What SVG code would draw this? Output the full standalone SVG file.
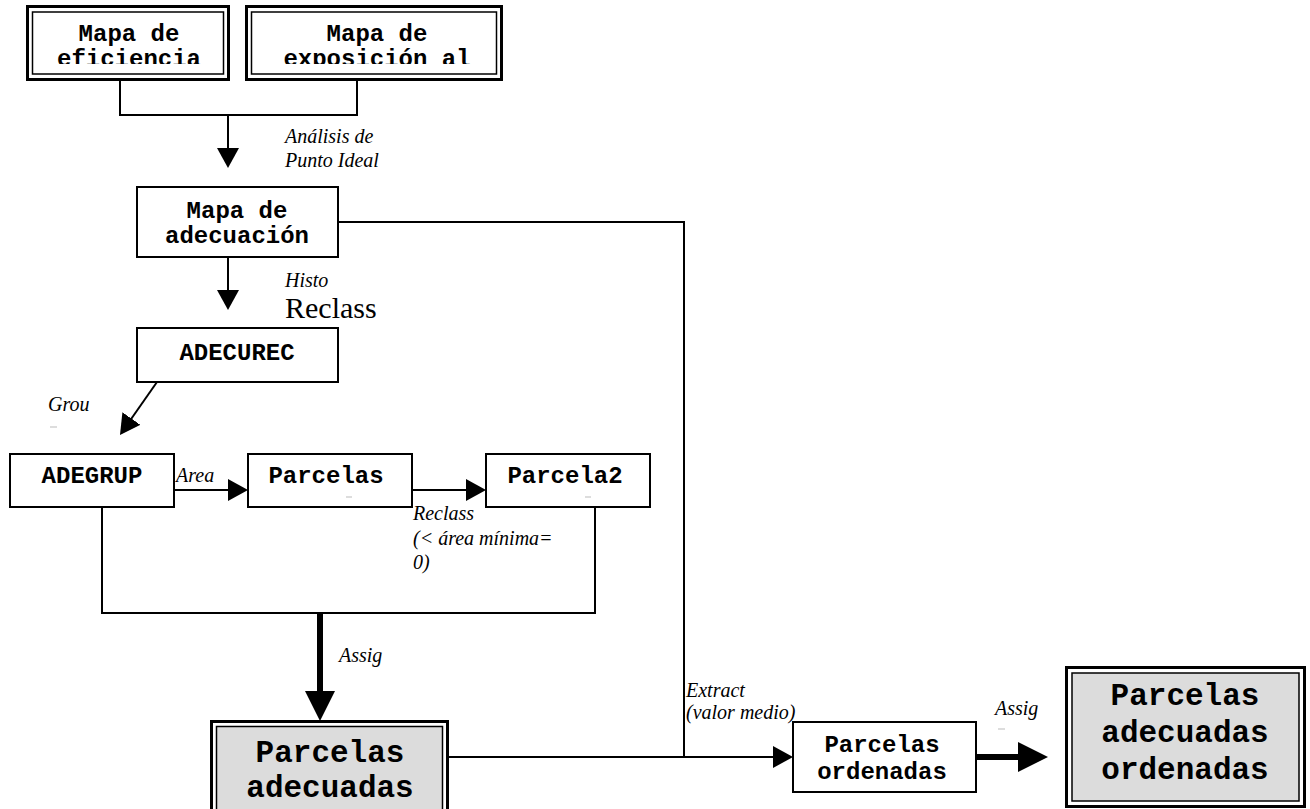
<svg xmlns="http://www.w3.org/2000/svg" width="1310" height="809" viewBox="0 0 1310 809">
<defs>
<marker id="ah" markerUnits="userSpaceOnUse" markerWidth="20" markerHeight="22" refX="10" refY="11" orient="auto"><path d="M0,0 L20,11 L0,22 z" fill="#000"/></marker>
<marker id="ahb" markerUnits="userSpaceOnUse" markerWidth="30" markerHeight="30" refX="15" refY="15" orient="auto"><path d="M0,0 L30,15 L0,30 z" fill="#000"/></marker>
<clipPath id="c1"><rect x="32" y="12" width="192" height="52"/></clipPath>
<clipPath id="c2"><rect x="251" y="12" width="246" height="52"/></clipPath>
</defs>
<style>
.box{fill:#fff;stroke:#000;stroke-width:2}
.outer{fill:#fff;stroke:#000;stroke-width:3}
.inner{fill:#fff;stroke:#000;stroke-width:1.5}
.grey{fill:#dcdcdc;stroke:#000;stroke-width:1.5}
.t{font-family:"Liberation Mono","Courier New",monospace;font-weight:bold;font-size:24px;text-anchor:middle;fill:#000}
.tb{font-family:"Liberation Mono","Courier New",monospace;font-weight:bold;font-size:31px;text-anchor:middle;fill:#000}
.lb{font-family:"Liberation Serif","Times New Roman",serif;font-style:italic;font-size:20px;fill:#000}
.ln{fill:none;stroke:#000;stroke-width:2}
.thick{fill:none;stroke:#000;stroke-width:6}
.dash{stroke:#bbb;stroke-width:1}
</style>
<g id="connectors">
<polyline class="ln" points="120,80 120,115 357,115 357,80"/>
<line class="ln" x1="228" y1="115" x2="228" y2="158" marker-end="url(#ah)"/>
<line class="ln" x1="228" y1="257" x2="228" y2="300" marker-end="url(#ah)"/>
<line class="ln" x1="157" y1="382" x2="125.7" y2="426.8" marker-end="url(#ah)"/>
<line class="ln" x1="174" y1="490" x2="238" y2="490" marker-end="url(#ah)"/>
<line class="ln" x1="412" y1="490" x2="476" y2="490" marker-end="url(#ah)"/>
<polyline class="ln" points="102,507 102,613 595,613 595,507"/>
<line class="thick" x1="320" y1="613" x2="320" y2="706" marker-end="url(#ahb)"/>
<polyline class="ln" points="338,222 684,222 684,757"/>
<line class="ln" x1="448" y1="757" x2="783" y2="757" marker-end="url(#ah)"/>
<line class="thick" x1="976" y1="757" x2="1033" y2="757" marker-end="url(#ahb)"/>
<text class="lb" x="285" y="143">Análisis de</text>
<text class="lb" x="285" y="167">Punto Ideal</text>
<text class="lb" x="285" y="287">Histo</text>
<text x="285" y="318" style="font-family:'Liberation Serif','Times New Roman',serif;font-size:30px;fill:#000">Reclass</text>
<text class="lb" x="48" y="411">Grou</text>
<line class="dash" x1="50" y1="427" x2="57" y2="427"/>
<text class="lb" x="176" y="482">Area</text>
<text class="lb" x="413" y="520">Reclass</text>
<text class="lb" x="413" y="545">(&lt; área mínima=</text>
<text class="lb" x="413" y="569">0)</text>
<text class="lb" x="339" y="662">Assig</text>
<text class="lb" x="686" y="697">Extract</text>
<text class="lb" x="686" y="719">(valor medio)</text>
<text class="lb" x="995" y="715">Assig</text>
<line class="dash" x1="998" y1="729" x2="1005" y2="729"/>
</g>
<g id="n-eficiencia">
<rect class="outer" x="27.5" y="6.5" width="201" height="73"/>
<rect class="inner" x="32.5" y="12" width="191" height="62"/>
<g clip-path="url(#c1)">
<text class="t" x="129" y="41">Mapa de</text>
<text class="t" x="129" y="66">eficiencia</text>
</g>
</g>
<g id="n-exposicion">
<rect class="outer" x="246.5" y="6.5" width="255" height="73"/>
<rect class="inner" x="251.5" y="12" width="245" height="62"/>
<g clip-path="url(#c2)">
<text class="t" x="377" y="41">Mapa de</text>
<text class="t" x="377" y="66">exposición al</text>
</g>
</g>
<g id="n-adecuacion">
<rect class="box" x="137" y="187" width="201" height="70"/>
<text class="t" x="237" y="218">Mapa de</text>
<text class="t" x="237" y="243">adecuación</text>
</g>
<g id="n-adecurec">
<rect class="box" x="137" y="328" width="201" height="54"/>
<text class="t" x="237" y="360">ADECUREC</text>
</g>
<g id="n-adegrup">
<rect class="box" x="10" y="454" width="164" height="53"/>
<text class="t" x="92" y="483">ADEGRUP</text>
</g>
<g id="n-parcelas">
<rect class="box" x="248" y="454" width="164" height="53"/>
<text class="t" x="326" y="483">Parcelas</text>
<line class="dash" x1="346" y1="497" x2="352" y2="497"/>
</g>
<g id="n-parcela2">
<rect class="box" x="486" y="454" width="164" height="53"/>
<text class="t" x="565" y="483">Parcela2</text>
<line class="dash" x1="585" y1="497" x2="591" y2="497"/>
</g>
<g id="n-adecuadas">
<rect class="outer" x="211.5" y="721.5" width="236" height="92"/>
<rect class="grey" x="216.5" y="726.5" width="226" height="90"/>
<text class="tb" x="330" y="762">Parcelas</text>
<text class="tb" x="330" y="797">adecuadas</text>
</g>
<g id="n-ordenadas">
<rect class="box" x="793" y="722" width="183" height="70"/>
<text class="t" x="882" y="752">Parcelas</text>
<text class="t" x="882" y="779">ordenadas</text>
</g>
<g id="n-adecuadas-ordenadas">
<rect class="outer" x="1066.5" y="667.5" width="238" height="139"/>
<rect class="grey" x="1072" y="673" width="227" height="128"/>
<text class="tb" x="1185" y="705">Parcelas</text>
<text class="tb" x="1185" y="742">adecuadas</text>
<text class="tb" x="1185" y="779">ordenadas</text>
</g>
</svg>
